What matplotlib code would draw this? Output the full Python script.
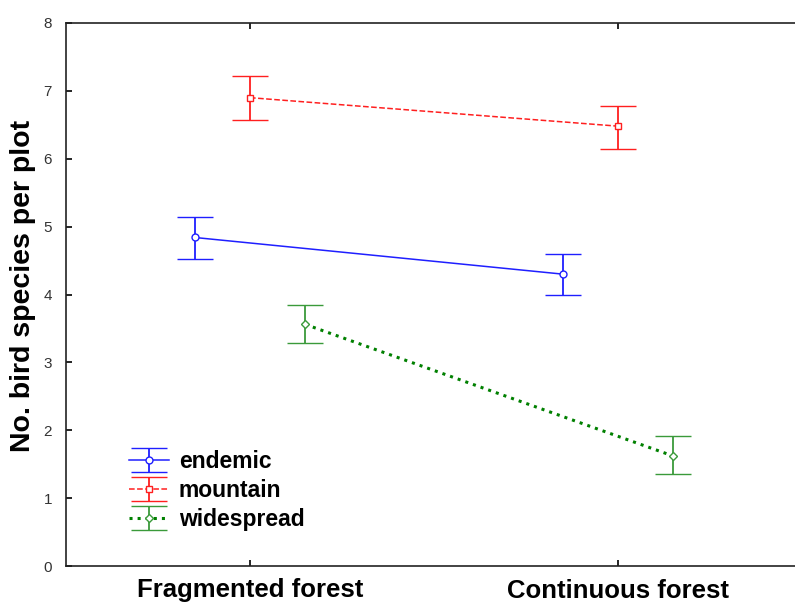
import matplotlib.pyplot as plt
from matplotlib.legend_handler import HandlerErrorbar
import numpy as np

plt.rcParams['font.family'] = ['Liberation Sans', 'DejaVu Sans']

# data
habitats = ['Fragmented forest', 'Continuous forest']
groups = ['endemic', 'mountain', 'widespread']
endemic = [4.84, 4.30]
endemic_lo = [4.53, 3.99]
endemic_hi = [5.14, 4.60]
mountain = [6.90, 6.48]
mountain_lo = [6.57, 6.15]
mountain_hi = [7.22, 6.77]
widespread = [3.56, 1.62]
widespread_lo = [3.28, 1.35]
widespread_hi = [3.84, 1.91]
y_ticks = [0, 1, 2, 3, 4, 5, 6, 7, 8]

fig = plt.figure(figsize=(7.95, 6.05), dpi=100)
# axes runs a bit past the right edge, like the cropped original
ax = fig.add_axes([66 / 795, 39 / 605, 736 / 795, 543 / 605])

x = np.arange(len(habitats))
styles = [
    (endemic, endemic_lo, endemic_hi, -0.15, '#1f1fff', '#1f1fff', '-', 'o'),
    (mountain, mountain_lo, mountain_hi, 0.0, '#ff1f1f', '#ff1f1f', '--', 's'),
    (widespread, widespread_lo, widespread_hi, 0.15, '#3a9a3a', '#008000', ':', 'D'),
]

handles = []
for (m, lo, hi, off, ecol, lcol, ls, mk), name in zip(styles, groups):
    m = np.array(m)
    yerr = [m - np.array(lo), np.array(hi) - m]
    lw = 2.2 if ls == ':' else 1.1
    h = ax.errorbar(x + off, m, yerr=yerr, color=lcol, ecolor=ecol, ls=ls, lw=lw,
                    marker=mk, ms=5 if mk != 'D' else 4.5, mfc='white', mec=ecol,
                    mew=1.0, capsize=13, elinewidth=1.3, capthick=1.3, label=name,
                    clip_on=False)
    handles.append(h)

ax.set_xlim(-0.5, 1.5)
ax.set_ylim(0, 8)
ax.set_xticks(x)
ax.set_xticklabels(habitats, fontsize=18.5, fontweight='bold')
ax.set_yticks(y_ticks)
ax.set_yticklabels([str(t) for t in y_ticks], fontsize=11, color='#333333')
ax.set_ylabel('No. bird species per plot', fontsize=20.5, fontweight='bold')
ax.yaxis.set_label_coords(-0.041, 0.515)
ax.tick_params(axis='both', direction='in', length=4, width=1.2, top=True)
ax.tick_params(axis='x', pad=9)
ax.tick_params(axis='y', pad=10)
for s in ax.spines.values():
    s.set_linewidth(1.2)
    s.set_color('#222222')

ax.legend(handles=handles, loc='lower left', bbox_to_anchor=(0.057, 0.027),
          frameon=False, prop={'weight': 'bold', 'size': 16.5},
          handlelength=1.75, labelspacing=0.25, handletextpad=0.45,
          handler_map={type(handles[0]): HandlerErrorbar(yerr_size=0.52)})

plt.savefig('out.png', dpi=100)
